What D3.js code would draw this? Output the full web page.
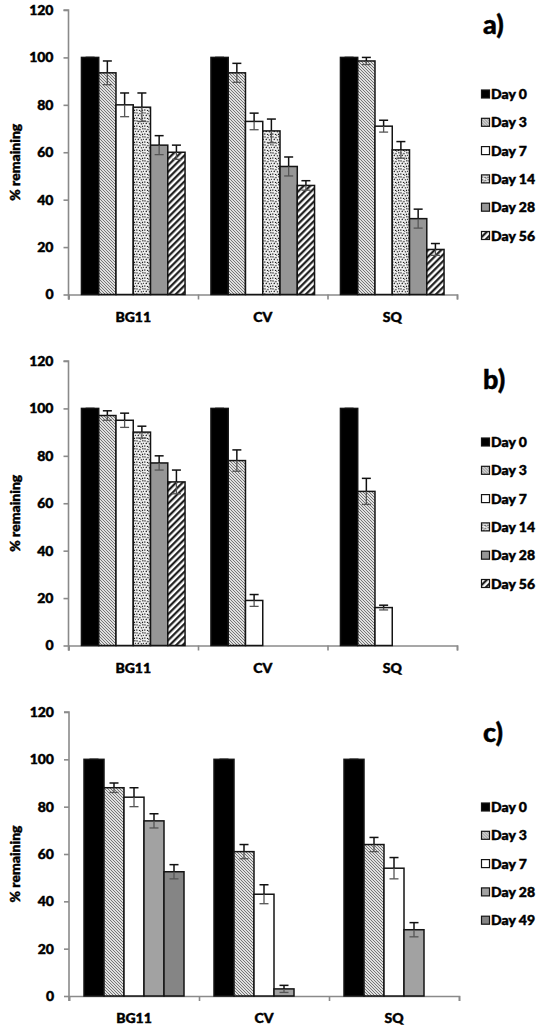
<!DOCTYPE html>
<html>
<head>
<meta charset="utf-8">
<script src="https://cdn.jsdelivr.net/npm/d3@7"></script>
<style>
  html, body { margin: 0; padding: 0; background: #fff; }
  svg { display: block; }
  text { font-family: "Lato", "Open Sans", "Liberation Sans", sans-serif; font-weight: 900; fill: #000;
         stroke: #000; stroke-width: 0.45px; }
</style>
</head>
<body>
<svg id="chart" width="541" height="1026"></svg>
<script>
// ---- data -------------------------------------------------------------
const categories = ["BG11", "CV", "SQ"];
const yTicks = [0, 20, 40, 60, 80, 100, 120];

// a) six sampling days
const seriesA = ["Day 0", "Day 3", "Day 7", "Day 14", "Day 28", "Day 56"];
const valuesA = [
  [100, 100, 100],
  [93.5, 93.5, 98.5],
  [80, 73, 71],
  [79, 69, 61],
  [63, 54, 32],
  [60, 46, 19]
];
const errorsA = [
  [0, 0, 0],
  [5, 4, 1.5],
  [5, 3.5, 2.5],
  [6, 5, 3.5],
  [4, 4, 4],
  [3, 2, 2.5]
];

// b) CV and SQ only sampled up to day 7
const seriesB = ["Day 0", "Day 3", "Day 7", "Day 14", "Day 28", "Day 56"];
const valuesB = [
  [100, 100, 100],
  [97, 78, 65],
  [95, 19, 16],
  [90, null, null],
  [77, null, null],
  [69, null, null]
];
const errorsB = [
  [0, 0, 0],
  [2, 4.5, 5.5],
  [3, 2.5, 1],
  [2.5, 0, 0],
  [3, 0, 0],
  [5, 0, 0]
];

// c) five sampling days
const seriesC = ["Day 0", "Day 3", "Day 7", "Day 28", "Day 49"];
const valuesC = [
  [100, 100, 100],
  [88, 61, 64],
  [84, 43, 54],
  [74, 3, 28],
  [52.5, null, null]
];
const errorsC = [
  [0, 0, 0],
  [2, 3, 3],
  [4, 4, 4.5],
  [3, 1.5, 3],
  [3, 0, 0]
];

const fillsAB = ["#000", "url(#hatchFine)", "#fff", "url(#confetti)", "#969696", "url(#hatchWide)"];
const fillsC = ["#000", "url(#hatchFine)", "#fff", "#a2a2a2", "#858585"];

// ---- drawing ------------------------------------------------------------
const svg = d3.select("#chart");
const defs = svg.append("defs");

// fine "\" hatch drawn as diagonals inside a square tile
const pf = defs.append("pattern").attr("id", "hatchFine")
  .attr("patternUnits", "userSpaceOnUse").attr("width", 3).attr("height", 3);
pf.append("rect").attr("width", 3).attr("height", 3).attr("fill", "#e0e0e0");
pf.append("path").attr("d", "M-1,-1L4,4M-1,2L1,4M2,-1L4,1")
  .attr("stroke", "#767676").attr("stroke-width", 1).attr("fill", "none");

// wide "/" stripes
const pw = defs.append("pattern").attr("id", "hatchWide")
  .attr("patternUnits", "userSpaceOnUse").attr("width", 4.6).attr("height", 4.6)
  .attr("patternTransform", "rotate(45)");
pw.append("rect").attr("width", 4.6).attr("height", 4.6).attr("fill", "#fff");
pw.append("line").attr("x1", 1.2).attr("y1", 0).attr("x2", 1.2).attr("y2", 4.6)
  .attr("stroke", "#111").attr("stroke-width", 2.1);

// speckled fill
const pc = defs.append("pattern").attr("id", "confetti")
  .attr("patternUnits", "userSpaceOnUse").attr("width", 8).attr("height", 8);
pc.append("rect").attr("width", 8).attr("height", 8).attr("fill", "#f0f0f0");
[[0.3, 0.4, 1.4, 1.1], [3.4, 0.9, 1.1, 1.4], [6.2, 0.2, 1.3, 1.2], [1.6, 2.9, 1.3, 1.2],
 [4.8, 3.3, 1.4, 1.1], [7.2, 2.8, 0.8, 1.2], [0.2, 5.4, 1.2, 1.3], [2.9, 5.9, 1.4, 1.1],
 [5.9, 5.7, 1.2, 1.4], [4.2, 7.3, 1, 0.7], [2.2, 1.8, 0.6, 0.6]]
  .forEach(([x, y, w, h]) => pc.append("rect").attr("x", x).attr("y", y)
    .attr("width", w).attr("height", h).attr("fill", "#1c1c1c"));

const panels = [
  { label: "a)", series: seriesA, values: valuesA, errors: errorsA, fills: fillsAB,
    x0: 68.5, x1: 457, yTop: 10, yBottom: 294.5, legendY: 94, labelY: 34 },
  { label: "b)", series: seriesB, values: valuesB, errors: errorsB, fills: fillsAB,
    x0: 68.5, x1: 457, yTop: 361, yBottom: 645.5, legendY: 442, labelY: 389 },
  { label: "c)", series: seriesC, values: valuesC, errors: errorsC, fills: fillsC,
    x0: 69, x1: 459, yTop: 712, yBottom: 996, legendY: 807, labelY: 742 }
];

const axisColor = "#8a8a8a";

panels.forEach(p => {
  const g = svg.append("g");
  const y = d3.scaleLinear().domain([0, 120]).range([p.yBottom, p.yTop]);
  const xCat = d3.scaleBand().domain(categories).range([p.x0, p.x1]).paddingInner(0).paddingOuter(0);
  const n = p.series.length;
  const gap = 1.5; // gap width of 150% of one bar
  const bw = xCat.bandwidth() / (n + gap);
  const xSer = d3.scaleBand().domain(d3.range(n))
    .range([bw * gap / 2, bw * gap / 2 + bw * n]).padding(0);

  // y axis
  const yAxis = d3.axisLeft(y).tickValues(yTicks).tickSize(5).tickPadding(10).tickFormat(d3.format("d"));
  const ya = g.append("g").attr("transform", `translate(${p.x0},0)`).call(yAxis);
  ya.select(".domain").attr("stroke", axisColor).attr("stroke-width", 1.6)
    .attr("d", `M-5,${p.yTop}H0V${p.yBottom + 5}`);
  ya.selectAll(".tick line").attr("stroke", axisColor).attr("stroke-width", 1.6);
  ya.selectAll(".tick text").style("font-size", "14px").attr("fill", "#000");

  // x axis with ticks on category boundaries
  const boundaries = categories.map(c => xCat(c)).concat([p.x1]);
  const xb = d3.scaleLinear().domain([p.x0, p.x1]).range([p.x0, p.x1]);
  const xAxis = d3.axisBottom(xb).tickValues(boundaries).tickSize(5).tickFormat("");
  const xa = g.append("g").attr("transform", `translate(0,${p.yBottom})`).call(xAxis);
  xa.select(".domain").attr("stroke", axisColor).attr("stroke-width", 1.6);
  xa.selectAll(".tick line").attr("stroke", axisColor).attr("stroke-width", 1.6);

  // category labels
  g.selectAll("text.cat").data(categories).join("text").attr("class", "cat")
    .attr("x", c => xCat(c) + xSer(0) + bw * n / 2)
    .attr("y", p.yBottom + 27)
    .attr("text-anchor", "middle").style("font-size", "14px").text(c => c);

  // bars
  const bars = [];
  p.series.forEach((s, si) => categories.forEach((c, ci) => {
    const v = p.values[si][ci];
    if (v !== null) bars.push({ si, ci, c, v, e: p.errors[si][ci] });
  }));

  g.selectAll("rect.bar").data(bars).join("rect").attr("class", "bar")
    .attr("x", d => xCat(d.c) + xSer(d.si))
    .attr("y", d => y(d.v))
    .attr("width", bw)
    .attr("height", d => y(0) - y(d.v))
    .attr("fill", d => p.fills[d.si])
    .attr("stroke", "#141414").attr("stroke-width", 1.5);

  // error bars
  const capW = 9;
  const eg = g.selectAll("g.err").data(bars).join("g").attr("class", "err")
    .attr("transform", d => `translate(${xCat(d.c) + xSer(d.si) + bw / 2},0)`);
  eg.append("line").attr("y1", d => y(d.v)).attr("y2", d => y(d.v + d.e))
    .attr("stroke", "#111").attr("stroke-width", 1.5);
  eg.append("line").attr("y1", d => y(d.v)).attr("y2", d => y(d.v - d.e))
    .attr("stroke", "#555").attr("stroke-width", 1.3);
  eg.append("line").attr("x1", -capW / 2).attr("x2", capW / 2)
    .attr("y1", d => y(d.v + d.e)).attr("y2", d => y(d.v + d.e))
    .attr("stroke", "#111").attr("stroke-width", 1.5);
  eg.filter(d => d.e > 0).append("line").attr("x1", -capW / 2).attr("x2", capW / 2)
    .attr("y1", d => y(d.v - d.e)).attr("y2", d => y(d.v - d.e))
    .attr("stroke", "#555").attr("stroke-width", 1.3);

  // y axis title
  const midY = (p.yTop + p.yBottom) / 2 + 10;
  g.append("text").attr("transform", `translate(20,${midY}) rotate(-90)`)
    .attr("text-anchor", "middle").style("font-size", "14px").text("% remaining");

  // panel letter
  g.append("text").attr("x", 483).attr("y", p.labelY).style("font-size", "27px").text(p.label);

  // legend
  const lg = g.selectAll("g.leg").data(p.series).join("g").attr("class", "leg")
    .attr("transform", (d, i) => `translate(481.5,${p.legendY + i * 28.3})`);
  lg.append("rect").attr("x", 0).attr("y", -4).attr("width", 8).attr("height", 8)
    .attr("fill", (d, i) => p.fills[i]).attr("stroke", "#141414").attr("stroke-width", 1.2);
  lg.append("text").attr("x", 9.5).attr("y", 5).style("font-size", "14px").text(d => d);
});
</script>
</body>
</html>
